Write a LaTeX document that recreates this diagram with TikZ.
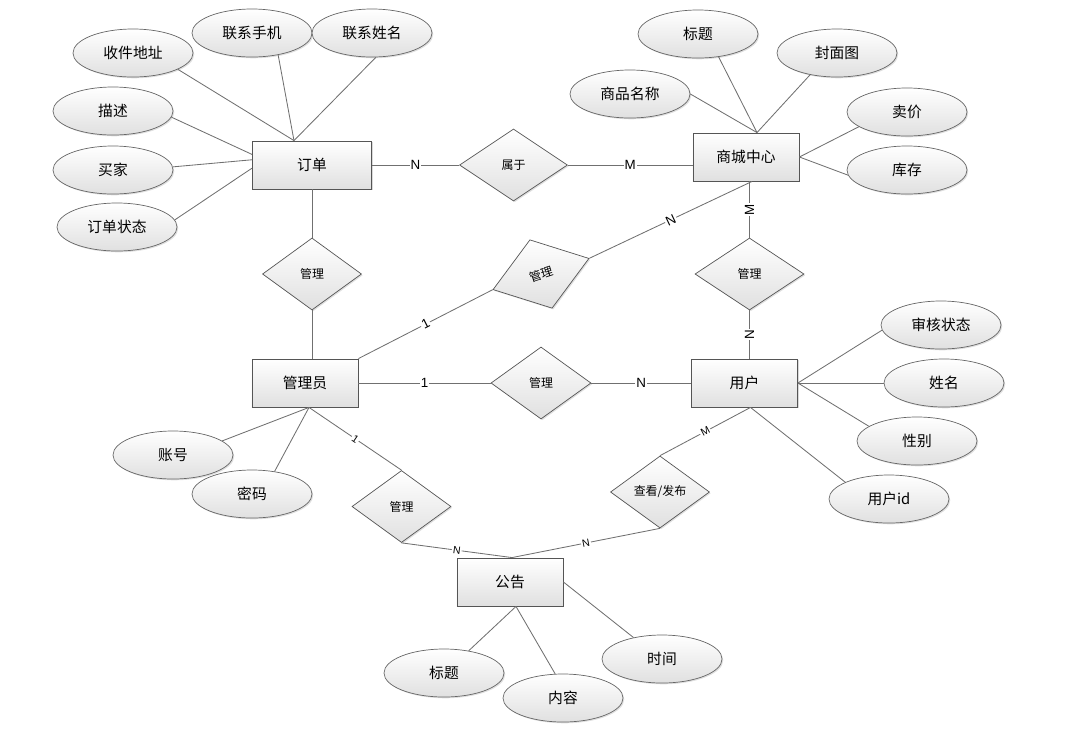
\documentclass[tikz,border=0pt]{standalone}
\usepackage{fontspec}
\setmainfont{Liberation Sans}
\newfontfamily\cjk{Noto Sans CJK SC}
\usepackage{tikz}
\usetikzlibrary{shapes.geometric, shadows}
\definecolor{rim}{RGB}{85,85,85}
\definecolor{edge}{RGB}{112,112,112}
\definecolor{shade}{RGB}{224,224,224}

\begin{document}
\begin{tikzpicture}[x=0.025cm, y=-0.025cm,
  entity/.style={draw=rim, rectangle, minimum width=2.65cm, minimum height=1.2cm, inner sep=0pt,
                 top color=white, bottom color=shade, line width=0.6pt,
                 drop shadow={shadow xshift=0.9pt, shadow yshift=-0.9pt, opacity=0.3},
                 font=\cjk\fontsize{10.5}{12}\selectfont},
  attr/.style={draw=rim!90, ellipse, minimum width=3cm, minimum height=1.2cm, inner sep=0pt,
               top color=white, bottom color=shade, line width=0.5pt,
               drop shadow={shadow xshift=0.9pt, shadow yshift=-0.9pt, opacity=0.25},
               font=\cjk\fontsize{10.5}{12}\selectfont},
  rel/.style={draw=rim, diamond, minimum width=2.475cm, minimum height=1.8cm, inner sep=0pt,
              top color=white, bottom color=shade, line width=0.5pt,
              drop shadow={shadow xshift=0.9pt, shadow yshift=-0.9pt, opacity=0.25},
              font=\cjk\fontsize{8.5}{10}\selectfont},
  link/.style={draw=edge, line width=0.6pt},
  lbl/.style={fill=white, inner sep=0.8pt, font=\fontsize{9.5}{11}\selectfont},
  tiny lbl/.style={lbl, font=\fontsize{7.5}{9}\selectfont}
]
\useasboundingbox (0,0) rectangle (1073,733);

\node[entity, minimum width=2.975cm] (dd) at (312,165) {订单};
\node[entity] (scz) at (746,157) {商城中心};
\node[entity] (gly) at (305,383) {管理员};
\node[entity] (yh) at (744.5,383) {用户};
\node[entity] (gg) at (510,582) {公告};

\node[rel, minimum width=2.7cm] (sy) at (513.5,165) {属于};
\node[rel] (gl1) at (312,274) {管理};
\node[rel, minimum width=2.525cm, rotate=18] (gl2) at (541,274) {管理};
\node[rel, minimum width=2.725cm] (gl3) at (749.5,274) {管理};
\node[rel, minimum width=2.5cm] (gl4) at (541,383) {管理};
\node[rel] (gl5) at (401.5,506.5) {管理};
\node[rel] (ckfb) at (660,492) {查看/发布};

\node[attr] (sjdz) at (133,53) {收件地址};
\node[attr] (lxsj) at (252,33) {联系手机};
\node[attr] (lxxm) at (372,33) {联系姓名};
\node[attr] (ms) at (113,111) {描述};
\node[attr] (mj) at (113,170) {买家};
\node[attr] (ddzt) at (117,227) {订单状态};
\node[attr] (bt1) at (698,34) {标题};
\node[attr] (fmt) at (837,53) {封面图};
\node[attr] (spmc) at (630,94) {商品名称};
\node[attr] (maij) at (907,112) {卖价};
\node[attr] (kc) at (907,170) {库存};
\node[attr] (shzt) at (941,325) {审核状态};
\node[attr] (xm) at (944,383) {姓名};
\node[attr] (xb) at (917,441) {性别};
\node[attr] (yhid) at (889,499) {用户id};
\node[attr] (zh) at (173,455) {账号};
\node[attr] (mm) at (252,494) {密码};
\node[attr] (bt2) at (444,673) {标题};
\node[attr] (nr) at (563,698) {内容};
\node[attr] (sj) at (662,659) {时间};

\coordinate (ddn) at ([xshift=-0.45cm]dd.north);
\coordinate (sczn) at ([xshift=0.275cm]scz.north);
\coordinate (sczs) at ([xshift=0.15cm]scz.south);
\coordinate (glys) at ([xshift=0.1cm]gly.south);
\coordinate (yhs) at ([xshift=0.15cm]yh.south);
\coordinate (ggn) at ([xshift=0.05cm]gg.north);
\coordinate (ggs) at ([xshift=0.15cm]gg.south);

\foreach \a/\b in {sjdz.340/ddn, lxsj.320/ddn, lxxm.279/ddn, ms.354/dd.170, mj.3/dd.175, ddzt.7/dd.183,
                   bt1.312/sczn, fmt.219/sczn, spmc.0/sczn, maij.197/scz.east, kc.185/scz.east,
                   shzt.185/yh.east, xm.180/yh.east, xb.163/yh.east, yhid.159/yhs,
                   zh.16/glys, mm.45/glys, bt2.42/ggs, nr.108/ggs, sj.143/gg.east}
  \draw[link] (\a) -- (\b);

\draw[link] (dd.east) -- node[lbl] {N} (sy.west);
\draw[link] (sy.east) -- node[lbl] {M} (sy.east -| scz.west);
\draw[link] (dd.south) -- (gl1.north);
\draw[link] (gl1.south) -- (gl1.south |- gly.north);
\draw[link] (gly.north east) -- node[lbl, sloped] {1} (gl2.west);
\draw[link] (gl2.east) -- node[lbl, sloped] {N} (sczs);
\draw[link] (gl3.north |- scz.south) -- node[lbl, rotate=90] {M} (gl3.north);
\draw[link] (gl3.south) -- node[lbl, rotate=90] {N} (gl3.south |- yh.north);
\draw[link] (gly.east) -- node[lbl] {1} (gl4.west);
\draw[link] (gl4.east) -- node[lbl] {N} (yh.west);
\draw[link] (glys) -- node[tiny lbl, sloped] {1} (gl5.north);
\draw[link] (gl5.south) -- node[tiny lbl, sloped] {N} (ggn);
\draw[link] (yhs) -- node[tiny lbl, sloped] {M} (ckfb.north);
\draw[link] (ckfb.south) -- node[tiny lbl, sloped] {N} (ggn);
\end{tikzpicture}
\end{document}
